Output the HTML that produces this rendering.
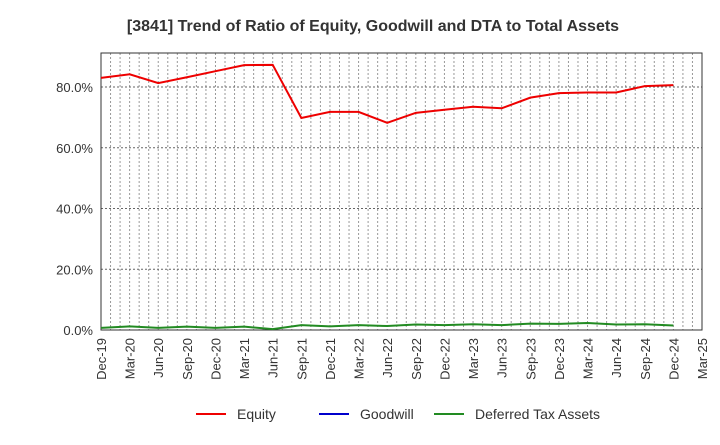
<!DOCTYPE html>
<html><head><meta charset="utf-8"><style>
body{margin:0;background:#fff;font-family:"Liberation Sans",sans-serif;}
</style></head><body>
<svg width="720" height="440" xmlns="http://www.w3.org/2000/svg" id="chart">
<text x="373" y="31" text-anchor="middle" font-size="16" font-weight="bold" fill="#333">[3841]  Trend of Ratio of Equity, Goodwill and DTA to Total Assets</text>
<g id="grid"></g><g id="axes"></g><g id="series"></g>
<g>
<line x1="196" y1="414" x2="226" y2="414" stroke="#e00" stroke-width="2"/>
<text x="237" y="419" font-size="14" fill="#333">Equity</text>
<line x1="319" y1="414" x2="349" y2="414" stroke="#0000cc" stroke-width="2"/>
<text x="360" y="419" font-size="14" fill="#333">Goodwill</text>
<line x1="434" y1="414" x2="464" y2="414" stroke="#228B22" stroke-width="2"/>
<text x="475" y="419" font-size="14" fill="#333">Deferred Tax Assets</text>
</g>
</svg>
<script>
const categories=["Dec-19","Mar-20","Jun-20","Sep-20","Dec-20","Mar-21","Jun-21","Sep-21","Dec-21","Mar-22","Jun-22","Sep-22","Dec-22","Mar-23","Jun-23","Sep-23","Dec-23","Mar-24","Jun-24","Sep-24","Dec-24","Mar-25"];
const equity=[83,84.2,81.3,83.2,85.2,87.2,87.3,69.8,71.8,71.8,68.2,71.5,72.5,73.5,73,76.5,78,78.2,78.2,80.3,80.6];
const dta=[0.7,1.2,0.7,1.1,0.7,1.1,0.3,1.6,1.2,1.6,1.3,1.8,1.6,1.9,1.6,2.1,2.0,2.3,1.8,1.9,1.5];
const yTicks=[0,20,40,60,80];
const NS="http://www.w3.org/2000/svg";
const L=101,R=702,T=53,B=330;
const x=i=>L+(R-L)*i/(categories.length-1);
const y=v=>B-(B-87)*v/80;
function mk(tag,attrs,parent){const e=document.createElementNS(NS,tag);for(const k in attrs)e.setAttribute(k,attrs[k]);document.getElementById(parent).appendChild(e);return e;}
for(let m=1;m<(categories.length-1)*3;m++){
 const xx=L+(R-L)*m/((categories.length-1)*3);
 const g=mk('line',{x1:xx,x2:xx,y1:T,y2:B,stroke:'#999','stroke-dasharray':'2,2','stroke-width':1},'grid');
 
 
}
yTicks.forEach(v=>{
 const g=mk('line',{x1:L,x2:R,y1:y(v),y2:y(v),stroke:'#666','stroke-dasharray':'2,2','stroke-width':1},'grid');
 
 
 const t=mk('text',{x:L-8,y:y(v)+5,'text-anchor':'end','font-size':13,fill:'#333'},'axes');
 t.textContent=v.toFixed(1)+'%';
 
 
});
const f=mk('rect',{x:L,y:T,width:R-L,height:B-T,fill:'none',stroke:'#333','stroke-width':1},'axes');


categories.forEach((c,i)=>{
 const t=mk('text',{x:0,y:0,'text-anchor':'end','font-size':13,fill:'#333',transform:`translate(${x(i)+5},${B+8}) rotate(-90)`},'axes');
 t.textContent=c;
 
 
});
function line(arr,color,name){
 const p=mk('polyline',{points:arr.map((v,i)=>x(i)+','+y(v)).join(' '),fill:'none',stroke:color,'stroke-width':2},'series');
 
 
}
line(dta,'#228B22','dta-line');
line(equity,'#e00','equity-line');
</script>
</body></html>
